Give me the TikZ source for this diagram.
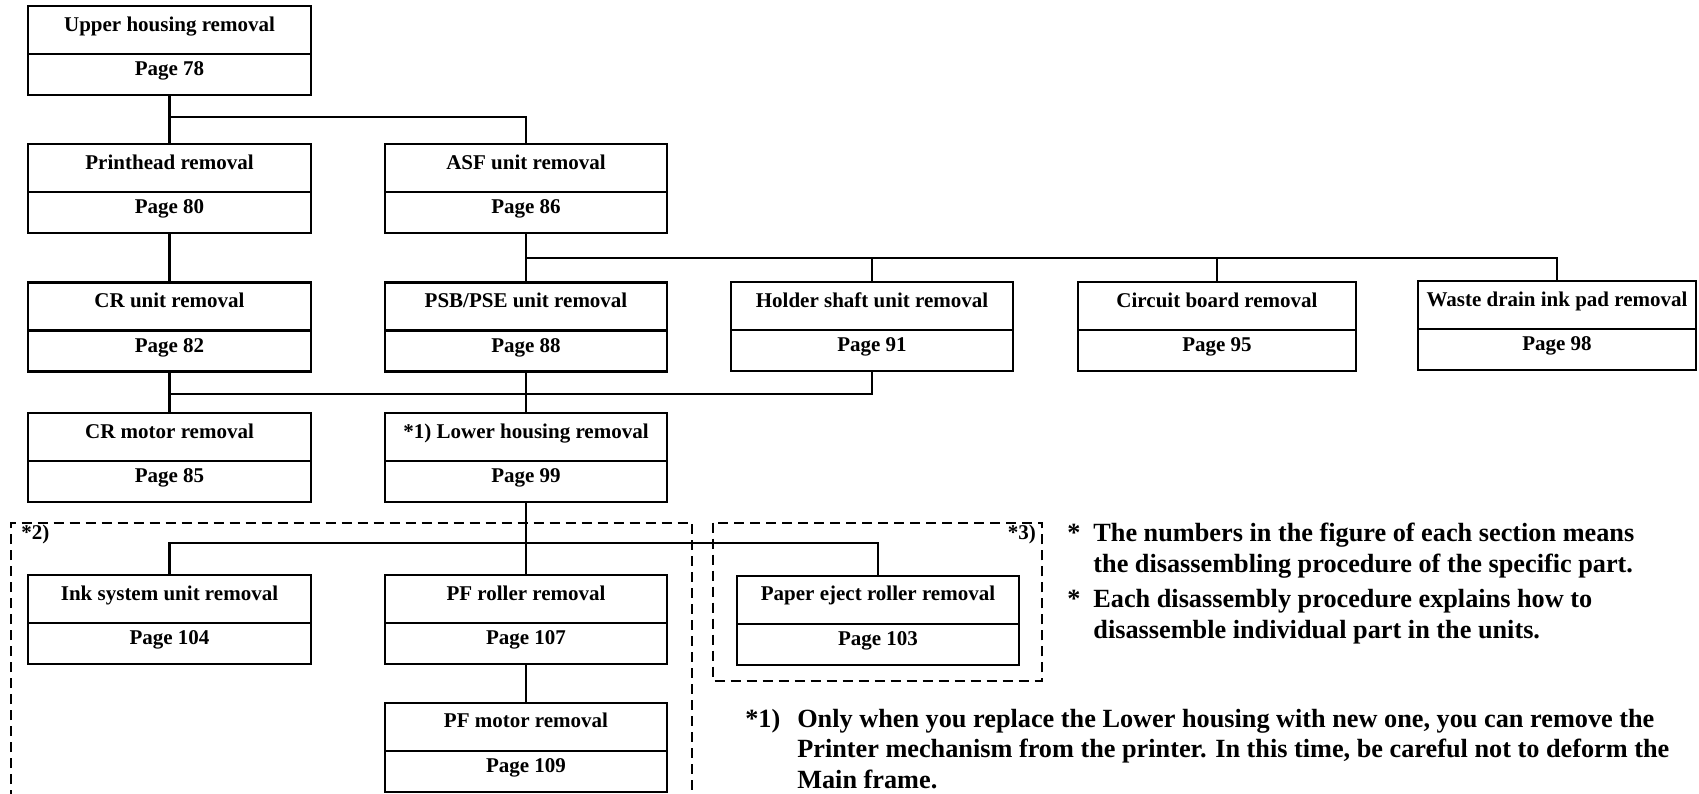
\documentclass[tikz,border=0pt]{standalone}
\usepackage{fontspec}
\setmainfont{Liberation Serif}
\usetikzlibrary{positioning}

\begin{document}
\begin{tikzpicture}[
    x=0.75pt, y=-0.75pt,
    box/.style={rectangle, draw, line width=1.6pt, outer sep=0pt,
                minimum width=212pt, align=center, text height=11pt, text depth=9.5pt,
                font=\fontsize{15.75pt}{18pt}\selectfont\bfseries},
    part/.style={box, minimum height=36pt},
    page/.style={box, minimum height=30.75pt},
    narrow/.style={minimum width=208.5pt},
    link/.style={line width=1.6pt},
    group/.style={line width=1.6pt, dash pattern=on 7.5pt off 4.5pt},
    tag/.style={inner sep=0pt, font=\fontsize{15.75pt}{18pt}\selectfont\bfseries},
    note/.style={inner sep=0pt, align=left, font=\fontsize{19.7pt}{23pt}\selectfont\bfseries}
  ]
    \useasboundingbox (0,0) rectangle (1699,793);

    % units and their pages
    \node[part] (upper) at (169.5,30) {Upper housing removal};
    \node[page, below=0pt of upper] (upper-pg) {Page 78};
    \node[part] (ph) at (169.5,168) {Printhead removal};
    \node[page, below=0pt of ph] (ph-pg) {Page 80};
    \node[part] (asf) at (526,168) {ASF unit removal};
    \node[page, below=0pt of asf] (asf-pg) {Page 86};
    \node[part] (cru) at (169.5,306.5) {CR unit removal};
    \node[page, below=0pt of cru] (cru-pg) {Page 82};
    \node[part] (psb) at (526,306.5) {PSB/PSE unit removal};
    \node[page, below=0pt of psb] (psb-pg) {Page 88};
    \node[part] (holder) at (872,306) {Holder shaft unit removal};
    \node[page, below=0pt of holder] (holder-pg) {Page 91};
    \node[part, narrow] (circuit) at (1217,306) {Circuit board removal};
    \node[page, narrow, below=0pt of circuit] (circuit-pg) {Page 95};
    \node[part, narrow] (waste) at (1557,305) {Waste drain ink pad removal};
    \node[page, narrow, below=0pt of waste] (waste-pg) {Page 98};
    \node[part] (crm) at (169.5,437.3) {CR motor removal};
    \node[page, below=0pt of crm] (crm-pg) {Page 85};
    \node[part] (lower) at (526,437.3) {*1) Lower housing removal};
    \node[page, below=0pt of lower] (lower-pg) {Page 99};
    \node[part] (ink) at (169.5,599) {Ink system unit removal};
    \node[page, below=0pt of ink] (ink-pg) {Page 104};
    \node[part] (pfr) at (526,599) {PF roller removal};
    \node[page, below=0pt of pfr] (pfr-pg) {Page 107};
    \node[part] (pe) at (878,599.7) {Paper eject roller removal};
    \node[page, below=0pt of pe] (pe-pg) {Page 103};
    \node[part] (pfm) at (526,726.7) {PF motor removal};
    \node[page, below=0pt of pfm] (pfm-pg) {Page 109};

    % branch points
    \coordinate (j1) at (169.5,116.7);
    \coordinate (j2) at (526,258);
    \coordinate (j3) at (169.5,394);
    \coordinate (j4) at (526,543.3);

    \foreach \a/\b in {upper-pg/ph, ph-pg/cru, cru-pg/crm, asf-pg/psb, psb-pg/lower,
                       lower-pg/pfr, pfr-pg/pfm}
      \draw[link] (\a.south) -- (\b.north);
    \draw[link] (j1) -| (asf.north);
    \draw[link] (j2) -| (waste.north);
    \foreach \b in {holder, circuit}
      \draw[link] (j2 -| \b.north) -- (\b.north);
    \draw[link] (j3) -| (holder-pg.south);
    \draw[link] (ink.north) |- (j4) -| (pe.north);

    % dashed groups
    \draw[group] (11,800) |- (692.4,522.7) -- (692.4,800);
    \draw[group] (713,522.7) rectangle (1042,681);
    \node[tag, anchor=north west] (grp2) at (21,524.5) {*2)};
    \node[tag, anchor=north east] (grp3) at (1036,524.5) {*3)};

    % remarks
    \node[note, anchor=base west] (remarks) at (1067,541.7) {%
      \begin{tabular}[t]{@{}l@{\hspace{9.75pt}}l@{}}
        * & The numbers in the figure of each section means\\
          & the disassembling procedure of the specific part.\\[3.5pt]
        * & Each disassembly procedure explains how to\\
          & disassemble individual part in the units.
      \end{tabular}};
    \node[note, anchor=base west] (caution) at (745,727) {%
      \begin{tabular}[t]{@{}l@{\hspace{12.75pt}}l@{}}
        *1) & Only when you replace the Lower housing with new one, you can remove the\\
            & Printer mechanism from the printer. In this time, be careful not to deform the\\
            & Main frame.
      \end{tabular}};
  \end{tikzpicture}
\end{document}
